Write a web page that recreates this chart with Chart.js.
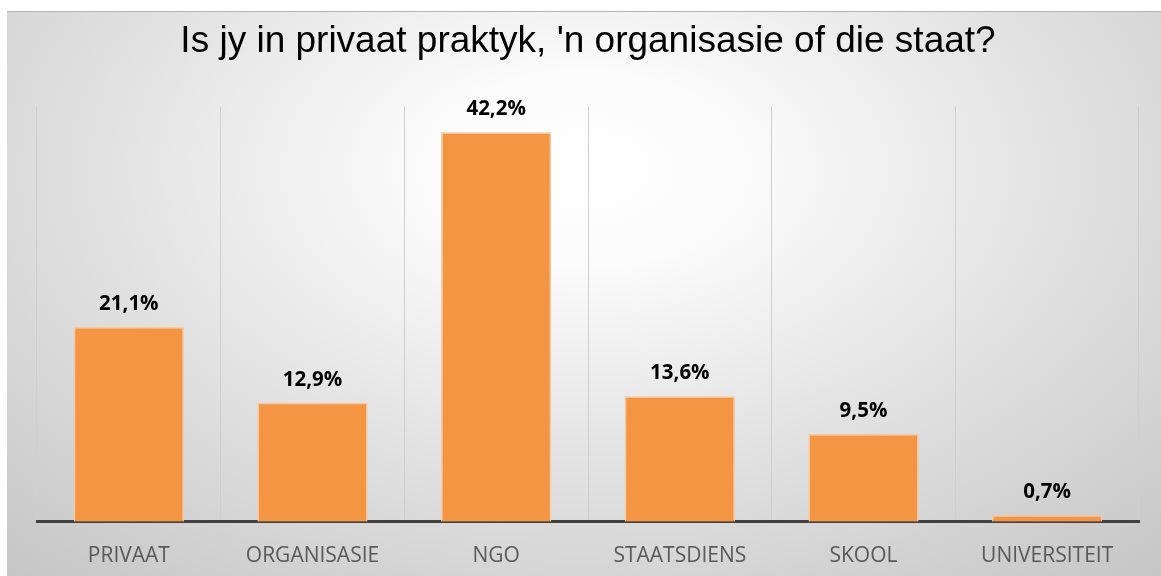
<!DOCTYPE html>
<html>
<head>
<meta charset="utf-8">
<script src="https://cdn.jsdelivr.net/npm/chart.js@4"></script>
<style>
  html, body { margin: 0; padding: 0; background: #ffffff; width: 1161px; height: 576px; overflow: hidden; }
  #frame {
    position: absolute; left: 7px; top: 11px; width: 1154px; height: 565px; overflow: hidden;
    background: radial-gradient(ellipse 75% 95% at 50% 28%, #ffffff 0%, #fbfbfb 18%, #e2e2e2 55%, #c6c6c6 100%);
    border-top: 1px solid #b4b4b4;
    box-sizing: border-box;
  }
  #c { position: absolute; left: 0; top: 0; }
</style>
</head>
<body>
<div id="frame"><canvas id="c" width="1154" height="580"></canvas></div>
<script>
const titleText = "Is jy in privaat praktyk, 'n organisasie of die staat?";
const categories = ["PRIVAAT", "ORGANISASIE", "NGO", "STAATSDIENS", "SKOOL", "UNIVERSITEIT"];
const percentages = [21.1, 12.9, 42.2, 13.6, 9.5, 0.7];
const valueLabels = ["21,1%", "12,9%", "42,2%", "13,6%", "9,5%", "0,7%"];

const labelPlugin = {
  id: 'valueLabels',
  afterDatasetsDraw(chart) {
    const ctx = chart.ctx;
    const meta = chart.getDatasetMeta(0);
    ctx.save();
    ctx.font = 'bold 20.5px "Open Sans"';
    ctx.fillStyle = '#000000';
    ctx.textAlign = 'center';
    ctx.textBaseline = 'middle';
    meta.data.forEach((bar, i) => {
      ctx.fillText(valueLabels[i], bar.x, bar.y - 23);
    });
    ctx.restore();
  }
};

new Chart(document.getElementById('c'), {
  type: 'bar',
  data: {
    labels: categories,
    datasets: [{
      data: percentages,
      backgroundColor: '#F39542',
      borderColor: '#F8C9A0',
      borderWidth: 1.5,
      barPercentage: 0.6,
      categoryPercentage: 1.0
    }]
  },
  options: {
    responsive: false,
    animation: false,
    layout: { padding: { left: 30, right: 22, top: 0, bottom: 1 } },
    plugins: {
      legend: { display: false },
      tooltip: { enabled: false },
      title: {
        display: true,
        text: titleText,
        color: '#000000',
        font: { family: '"Liberation Sans", Arial, sans-serif', size: 37, weight: 'normal' },
        padding: { top: 8, bottom: 42 }
      }
    },
    scales: {
      x: {
        offset: true,
        grid: { display: true, offset: true, color: '#cfcfcf', lineWidth: 1, drawTicks: false },
        border: { display: true, color: '#404040', width: 3 },
        ticks: { color: '#595959', font: { family: '"Open Sans"', size: 21 }, padding: 22 }
      },
      y: {
        display: false,
        min: 0,
        max: 45
      }
    }
  },
  plugins: [labelPlugin]
});
</script>
</body>
</html>
